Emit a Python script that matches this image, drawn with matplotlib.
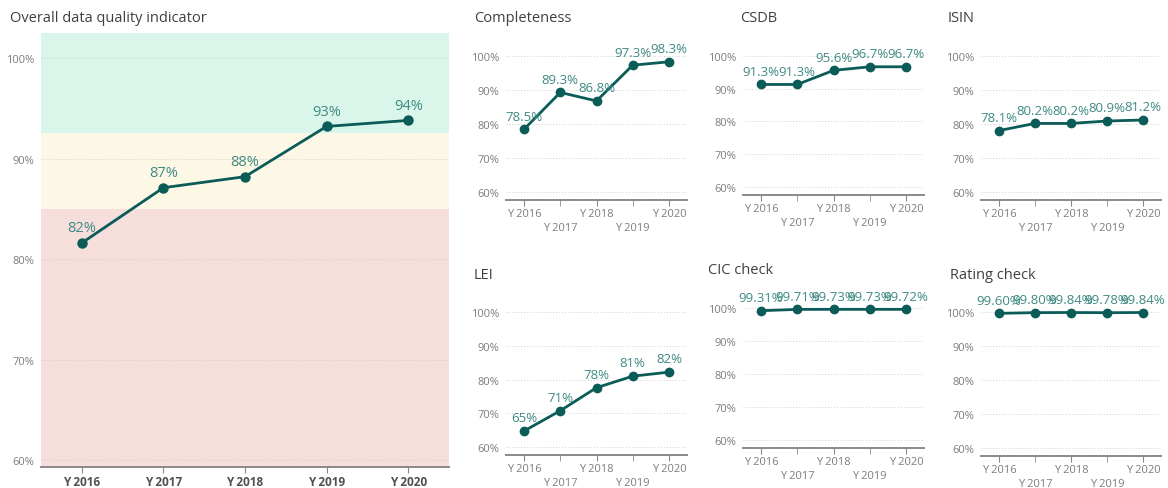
import numpy as np
import matplotlib
matplotlib.use("Agg")
from matplotlib import pyplot as plt

plt.rcParams['font.family'] = ['Open Sans', 'DejaVu Sans']

years = ['Y 2016', 'Y 2017', 'Y 2018', 'Y 2019', 'Y 2020']

overall = [81.6, 87.1, 88.2, 93.2, 93.8]
overall_labels = ['82%', '87%', '88%', '93%', '94%']

completeness = [78.5, 89.3, 86.8, 97.3, 98.3]
csdb = [91.3, 91.3, 95.6, 96.7, 96.7]
isin = [78.1, 80.2, 80.2, 80.9, 81.2]
lei = [64.8, 70.8, 77.6, 81.0, 82.2]
lei_labels = ['65%', '71%', '78%', '81%', '82%']
cic = [99.31, 99.71, 99.73, 99.73, 99.72]
rating = [99.60, 99.80, 99.84, 99.78, 99.84]

# quality bands for the overall indicator
bands = [(59.3, 85.0, '#f5dedb'), (85.0, 92.5, '#fdf8e6'), (92.5, 102.5, '#daf6ea')]

yticks = [60, 70, 80, 90, 100]
ytick_labels = ['60%', '70%', '80%', '90%', '100%']

W, H = 1168, 489
LINE = '#0b5c58'
LABEL = '#3f8a83'
TICK = '#7d7d7d'
TITLE = '#404040'

fig = plt.figure(figsize=(W / 100, H / 100), dpi=100)


def rect(l, t, r, b):
    return [l / W, 1 - b / H, (r - l) / W, (b - t) / H]


def style(ax, ylim, size):
    x = np.arange(len(years))
    ax.set_xlim(-0.5, len(years) - 0.5)
    ax.set_ylim(*ylim)
    ax.set_yticks(yticks)
    ax.set_yticklabels(ytick_labels)
    ax.grid(axis='y', color='#cfcfcf', linestyle=(0, (1, 2)), linewidth=0.7)
    ax.set_axisbelow(True)
    for s in ['top', 'right', 'left']:
        ax.spines[s].set_visible(False)
    ax.spines['bottom'].set_color('#8a8a8a')
    ax.spines['bottom'].set_linewidth(1.4)
    ax.tick_params(axis='y', length=0, pad=5, labelsize=size, labelcolor=TICK)
    ax.patch.set_alpha(0)
    return x


# main panel
ax = fig.add_axes(rect(41, 34, 449, 468))
x = style(ax, (59.3, 102.5), 8)
ax.set_xticks(x)
for lo, hi, c in bands:
    ax.axhspan(lo, hi, color=c, zorder=0, linewidth=0)
ax.plot(x, overall, color=LINE, lw=2, marker='o', ms=6.5, zorder=3)
for xi, v, t in zip(x, overall, overall_labels):
    ax.annotate(t, (xi, v), xytext=(0, 11), textcoords='offset points',
                ha='center', va='center', color=LABEL, fontsize=10.5)
ax.set_xticklabels(years, fontweight='bold', color='#505050', fontsize=8.5)
ax.tick_params(axis='x', length=4, color='#8a8a8a', pad=2)
fig.text(10 / W, 1 - 18 / H, 'Overall data quality indicator', fontsize=10.5,
         color=TITLE, va='center')

panels = [
    ('Completeness', completeness, None, (506, 40, 687, 201), (474, 19)),
    ('CSDB', csdb, None, (743, 40.6, 924, 195.5), (740, 19)),
    ('ISIN', isin, None, (981, 40, 1161, 201), (948, 19)),
    ('LEI', lei, lei_labels, (506, 296, 687, 456), (474, 276)),
    ('CIC check', cic, None, (743, 293, 924, 448.5), (708, 271)),
    ('Rating check', rating, None, (981, 296, 1161, 456.5), (950, 276)),
]

for name, vals, labels, r, tpos in panels:
    ax = fig.add_axes(rect(*r))
    x = style(ax, (57.7, 105), 8)
    ax.plot(x, vals, color=LINE, lw=2, marker='o', ms=6, zorder=3, clip_on=False)
    if labels is None:
        digits = 2 if vals[0] > 99 else 1
        labels = [f'{v:.{digits}f}%' for v in vals]
    for xi, v, t in zip(x, vals, labels):
        ax.annotate(t, (xi, v), xytext=(0, 9.5), textcoords='offset points',
                    ha='center', va='center', color=LABEL, fontsize=9.5)
    # staggered year labels: even years on the first row, odd ones below
    ax.set_xticks(x[::2])
    ax.set_xticklabels(years[::2], color=TICK, fontsize=8)
    ax.set_xticks(x[1::2], minor=True)
    ax.set_xticklabels(years[1::2], minor=True, color=TICK, fontsize=8)
    ax.tick_params(axis='x', which='major', length=4, color='#8a8a8a', pad=2)
    ax.tick_params(axis='x', which='minor', length=4, color='#8a8a8a', pad=12)
    fig.text(tpos[0] / W, 1 - tpos[1] / H, name, fontsize=10.5, color=TITLE, va='center')

fig.savefig('out.png', dpi=100)
